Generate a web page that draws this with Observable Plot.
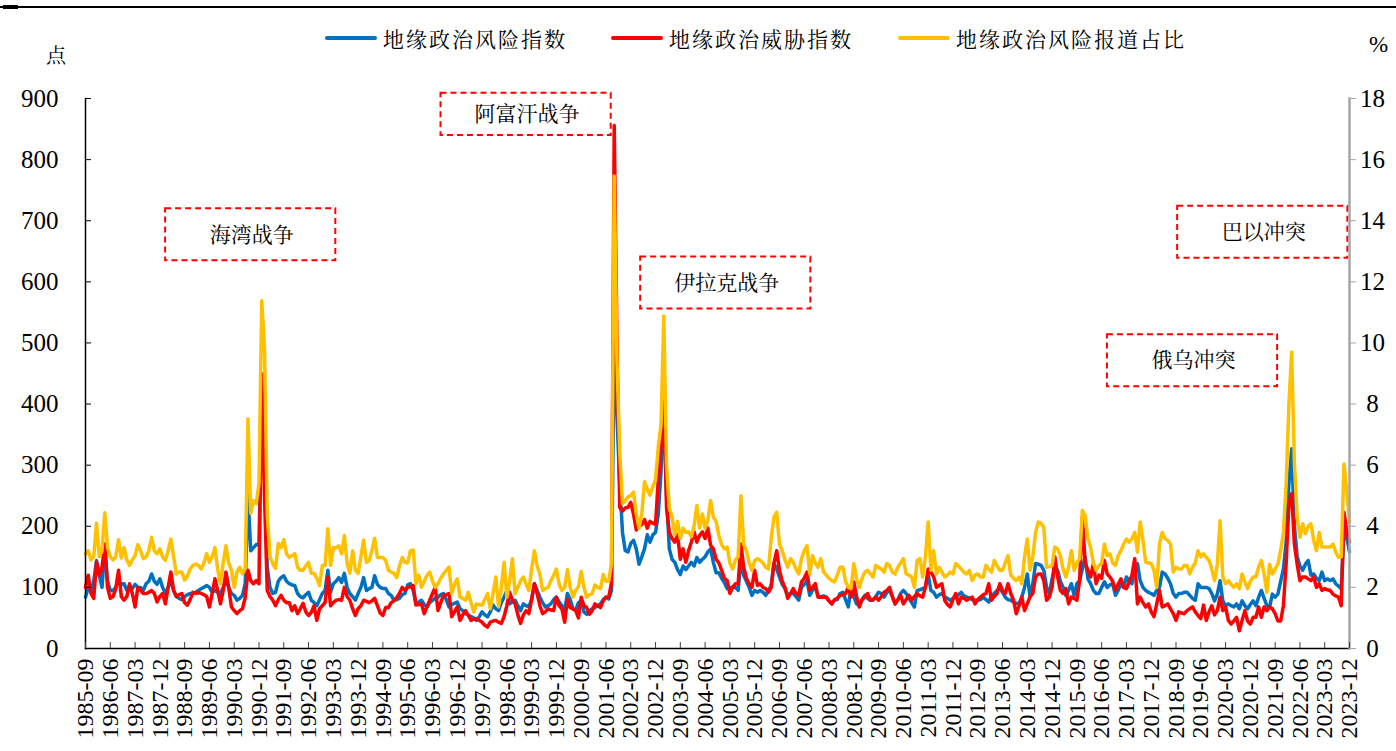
<!DOCTYPE html>
<html><head><meta charset="utf-8">
<script src="https://cdn.jsdelivr.net/npm/d3@7"></script>
<script src="https://cdn.jsdelivr.net/npm/@observablehq/plot@0.6"></script>
<style>
body{margin:0;background:#fff;}
#wrap{position:relative;width:1396px;height:751px;overflow:hidden;}
#wrap svg text{font-family:"Liberation Serif","Times New Roman","Noto Sans CJK SC",serif !important;}
#wrap svg g.ann text{font-family:"Noto Serif CJK SC","Noto Sans CJK SC",sans-serif !important;}
.cjk{font-family:"Noto Serif CJK SC","Noto Sans CJK SC",sans-serif;}
.leg{position:absolute;top:25px;height:26px;display:flex;align-items:center;font-size:21px;letter-spacing:2px;color:#000;white-space:nowrap;}
.leg i{display:inline-block;width:52px;height:4px;border-radius:2px;margin-right:6px;}
</style></head><body><div id="wrap"></div>
<script>
// ---- data ----
const startYear = 1985, startMonth = 9;
const seriesNames = ["地缘政治风险指数", "地缘政治威胁指数", "地缘政治风险报道占比"];
const seriesColors = ["#0070C0", "#FF0000", "#FFC000"];
// 地缘政治风险指数 (点)
const gprIndex = [
84,100,95,110,144,120,100,166,110,95,
95,100,110,105,106,95,100,98,105,100,
100,95,106,110,122,110,105,114,100,90,
100,111,95,85,82,80,85,88,90,90,
92,95,98,100,103,100,92,95,92,90,
100,111,100,90,87,79,82,87,106,253,
160,165,170,170,410,300,133,100,90,92,
110,116,119,110,106,104,103,90,85,83,
88,92,79,75,70,80,90,95,128,92,
106,110,116,108,123,100,90,85,79,90,
100,116,95,98,100,119,105,100,98,98,
90,87,79,80,82,88,90,104,106,95,
73,76,79,72,68,75,79,82,84,88,
90,80,68,72,74,76,65,62,57,55,
52,50,46,52,60,55,52,60,71,65,
62,75,84,95,73,76,79,70,62,73,
70,68,80,106,95,84,75,68,70,73,
80,84,76,70,62,90,80,65,62,75,
78,60,56,62,65,67,70,73,80,84,
81,95,515,380,270,190,160,158,172,177,
163,138,150,163,186,174,186,190,220,290,
400,250,163,146,141,129,121,135,129,135,
141,135,149,141,146,150,158,163,141,124,
124,115,108,98,100,100,100,95,144,120,
110,100,87,95,92,95,92,87,95,103,
139,130,117,105,98,87,90,90,85,79,
100,105,111,87,95,100,87,84,86,84,
78,73,79,80,90,92,80,68,100,85,
73,71,80,87,82,79,79,85,92,90,
84,92,95,85,73,80,90,95,90,82,
75,68,95,96,98,100,122,95,92,84,
88,90,84,82,79,82,84,88,92,86,
84,82,80,79,79,80,84,80,76,87,
90,95,98,92,84,80,79,76,74,73,
84,100,122,84,106,139,138,136,128,100,
90,114,133,128,110,100,87,95,106,87,
106,111,130,150,114,106,95,90,90,100,
109,100,104,106,87,95,106,100,117,110,
106,133,139,111,100,95,92,90,87,95,
100,125,122,115,106,90,84,90,90,92,
92,87,82,79,106,100,100,100,98,90,
78,89,111,78,70,73,70,68,73,65,
78,70,65,72,78,70,84,95,82,70,
68,89,84,89,110,130,175,270,327,200,
150,135,128,138,144,120,122,115,111,125,
111,114,111,114,106,102,98,193,182,158
];
// 地缘政治威胁指数 (点)
const gprThreat = [
100,120,90,82,141,120,133,171,100,82,
85,98,128,85,79,85,106,90,68,100,
95,90,90,92,95,90,76,85,90,73,
100,125,95,85,88,90,75,71,80,92,
90,92,90,88,85,68,90,114,95,73,
95,125,100,68,62,57,62,65,83,128,
111,106,111,106,450,250,95,85,79,70,
80,87,79,75,75,62,70,57,65,74,
60,54,59,70,46,65,70,75,116,70,
75,79,80,79,100,85,79,65,54,65,
70,79,77,75,78,82,70,58,54,67,
67,75,78,83,90,100,95,100,101,103,
71,72,73,57,68,79,90,100,62,75,
87,88,90,52,60,68,46,55,62,54,
46,48,49,46,43,38,35,43,45,46,
43,41,52,70,92,80,73,55,41,55,
62,57,80,106,90,70,57,60,65,63,
62,84,70,65,43,80,67,65,62,50,
84,70,67,56,62,73,70,67,78,84,
84,107,856,500,231,225,230,231,239,220,
194,200,203,211,197,208,205,203,276,330,
406,230,190,180,174,186,146,163,141,160,
174,191,174,185,191,180,197,169,163,146,
140,128,115,111,90,100,106,106,171,133,
115,106,100,128,103,106,100,98,92,100,
139,160,128,110,100,82,90,98,90,87,
109,115,125,95,100,106,84,84,84,84,
78,73,80,82,87,88,90,100,84,109,
85,68,80,84,90,79,80,84,79,85,
92,95,100,85,73,80,87,73,80,87,
79,85,90,86,84,100,130,125,117,100,
103,106,79,72,68,80,90,73,84,82,
79,82,84,73,80,84,88,90,106,79,
85,90,106,95,90,106,90,79,57,70,
84,62,73,85,90,117,122,122,111,79,
84,100,150,117,95,90,98,73,84,82,
79,111,215,140,128,117,139,106,120,115,
144,122,117,110,95,105,114,100,98,109,
120,147,73,84,75,68,73,60,52,73,
95,68,70,73,65,57,46,60,58,57,
62,65,68,60,54,49,71,46,60,70,
55,62,84,62,68,46,40,45,51,29,
46,62,45,40,51,51,68,51,68,62,
68,65,57,45,45,70,140,237,253,170,
138,111,117,117,114,111,117,100,106,95,
98,96,95,89,86,84,70,223,193,174
];
// 地缘政治风险报道占比 (%)
const gprShare = [
3.10,3.20,2.90,3.00,4.10,3.00,3.20,4.44,3.30,3.00,
2.90,3.00,3.56,2.96,3.30,2.90,2.72,2.90,3.04,3.40,
3.20,2.94,3.00,3.20,3.64,3.20,3.10,3.26,3.00,2.88,
3.20,3.58,3.00,2.44,2.50,2.50,2.24,2.36,2.60,2.72,
2.76,2.72,2.60,2.80,3.10,2.82,3.00,3.30,2.60,2.12,
2.80,3.36,2.80,2.56,2.00,2.50,2.66,2.44,2.62,7.52,
4.42,4.84,4.74,5.40,11.38,9.84,4.42,3.00,2.78,2.62,
3.44,3.30,3.56,3.10,2.98,3.04,3.10,2.66,2.56,2.56,
2.70,2.82,2.46,2.46,2.30,2.06,2.72,2.72,3.92,2.72,
3.30,3.30,3.36,3.10,3.70,2.78,2.46,3.20,2.56,2.46,
3.00,3.54,2.82,2.88,3.20,3.60,2.98,2.98,2.98,2.88,
2.56,2.50,2.46,2.32,2.70,2.98,2.82,2.80,3.20,3.22,
2.12,2.40,2.00,2.20,2.40,2.50,2.20,2.00,2.12,2.30,
2.44,2.56,2.66,1.80,2.10,2.28,1.68,1.64,1.58,1.84,
1.50,1.20,1.46,1.44,1.42,1.60,1.80,1.30,1.80,2.34,
1.36,2.00,2.82,1.68,2.20,2.94,1.80,2.00,2.22,2.34,
2.10,1.90,2.60,3.20,2.70,2.44,1.90,1.96,2.00,2.22,
2.40,2.60,2.10,1.90,2.00,2.58,2.00,1.68,1.90,2.02,
2.52,2.00,1.68,1.76,1.80,2.08,2.00,1.96,2.42,2.20,
2.20,2.80,15.46,9.40,6.40,4.74,4.84,4.96,5.00,5.12,
4.40,3.94,4.40,5.46,5.20,5.02,5.30,5.52,6.60,7.32,
10.88,6.00,4.60,4.30,3.72,4.16,3.60,3.94,3.80,3.82,
3.66,4.00,4.68,3.94,4.40,3.94,4.20,4.84,4.30,4.16,
3.70,3.40,3.26,3.32,2.80,2.60,2.90,3.00,5.00,3.42,
3.20,2.80,2.56,2.88,2.94,2.88,2.80,2.66,2.60,3.60,
4.30,4.46,3.42,3.20,2.90,2.66,2.94,2.82,2.60,2.44,
2.94,3.20,3.36,2.44,3.04,2.80,2.66,2.94,2.50,2.40,
2.30,2.22,2.18,2.40,2.66,2.66,2.20,2.00,1.96,2.78,
2.28,2.00,2.30,2.50,2.56,2.44,2.34,2.72,2.66,2.60,
2.50,2.78,2.72,2.50,2.44,2.66,2.80,2.94,2.44,2.40,
2.34,2.00,2.88,2.94,2.34,3.00,4.14,2.56,3.20,2.44,
2.66,2.50,2.34,2.40,2.50,2.44,2.78,2.70,2.60,2.50,
2.44,2.56,2.22,2.40,2.44,2.34,2.34,2.72,2.60,2.50,
2.88,2.70,2.56,2.56,2.80,3.04,2.40,2.30,2.22,2.34,
2.12,3.00,3.58,2.56,3.00,3.80,4.14,4.10,3.96,2.66,
2.68,2.72,3.32,3.26,3.04,2.60,2.34,2.66,3.20,2.56,
2.80,2.94,4.52,4.36,3.60,3.30,2.80,2.56,2.72,2.78,
3.42,3.04,3.10,2.80,2.72,3.04,3.20,3.42,3.58,3.48,
3.60,3.80,3.16,4.14,3.54,2.82,2.80,2.78,2.56,2.00,
3.42,3.80,3.60,3.54,3.42,2.50,2.66,2.60,2.60,2.72,
2.72,2.44,2.66,2.80,3.20,3.00,3.10,2.98,2.88,2.60,
2.22,2.76,4.18,2.34,2.12,2.22,2.10,2.00,2.12,1.96,
2.44,2.18,1.96,2.20,2.34,2.34,2.66,2.88,2.44,1.84,
2.76,2.44,2.60,2.76,3.20,3.80,5.40,8.00,9.70,6.04,
4.30,3.64,4.08,3.76,4.00,4.08,3.54,3.20,3.80,3.32,
3.32,3.32,3.32,3.42,3.16,2.98,3.00,6.04,5.16,4.14
];
const leftTicks = [0,100,200,300,400,500,600,700,800,900];
const rightTicks = [0,2,4,6,8,10,12,14,16,18];
const tickEvery = 9;
// annotations: event label, centre month, centre value (点)
const eventLabels = ["海湾战争", "阿富汗战争", "伊拉克战争", "俄乌冲突", "巴以冲突"];
const eventMonths = ["1990-09", "1999-01", "2005-01", "2019-03", "2021-04"];
const eventValues = [677, 874, 598, 471, 681];

// ---- build ----
const N = gprIndex.length;
const months = d3.range(N).map(i => {
  const m = startMonth - 1 + i;
  return `${startYear + Math.floor(m / 12)}-${String(m % 12 + 1).padStart(2, "0")}`;
});
const ratio = 900 / 18; // left/right axis ratio
const rows = (arr, k) => arr.map((v, i) => ({i, v: v * k}));
const xTicks = d3.range(0, N, tickEvery);
const halfW = 30.9, halfH = 42.5;
const events = eventLabels.map((label, k) => ({
  label, x: months.indexOf(eventMonths[k]) + (k === 2 ? 0.5 : k === 4 ? 0.5 : 0),
  y: eventValues[k], h: k === 1 ? 34.4 : halfH
}));
const serif = "Liberation Serif, Times New Roman, serif";
const cjk = "Noto Serif CJK SC, Noto Sans CJK SC, sans-serif";

const chart = Plot.plot({
  width: 1396, height: 751,
  marginLeft: 85, marginRight: 47, marginTop: 98, marginBottom: 103,
  x: {type: "linear", domain: [0, N - 1], label: null},
  y: {domain: [0, 900], label: null},
  style: {fontFamily: serif, background: "transparent", overflow: "visible", color: "#000"},
  marks: [
    Plot.rect(events, {x1: d => d.x - halfW, x2: d => d.x + halfW, y1: d => d.y - d.h, y2: d => d.y + d.h,
      fill: "white", stroke: "#FF0000", strokeWidth: 2, strokeDasharray: "6,4"}),
    Plot.text(events, {x: d => d.x, y: d => d.y, text: "label", fontSize: 21, fontFamily: cjk,
      fill: "#000", dx: 1, className: "ann", style: "letter-spacing:2px"}),
    Plot.line(rows(gprIndex, 1), {x: "i", y: "v", stroke: seriesColors[0], strokeWidth: 3.5, strokeLinejoin: "round"}),
    Plot.line(rows(gprThreat, 1), {x: "i", y: "v", stroke: seriesColors[1], strokeWidth: 3.5, strokeLinejoin: "round"}),
    Plot.line(rows(gprShare, ratio), {x: "i", y: "v", stroke: seriesColors[2], strokeWidth: 3.5, strokeLinejoin: "round"}),
    Plot.frame({anchor: "left", stroke: "#000", strokeWidth: 1.5}),
    Plot.frame({anchor: "bottom", stroke: "#000", strokeWidth: 1.5}),
    Plot.frame({anchor: "right", stroke: "#A6A6A6", strokeWidth: 2.5}),
    Plot.axisY({anchor: "left", ticks: leftTicks, tickSize: 0, tickPadding: 27, fontSize: 25,
      fontFamily: serif, tickFormat: d => d, label: null}),
    Plot.axisY({anchor: "left", ticks: leftTicks, tickSize: -6, tickFormat: () => "", stroke: "#000", label: null}),
    Plot.axisY({anchor: "right", ticks: rightTicks.map(d => d * ratio), tickSize: 6, tickPadding: 17, fontSize: 25,
      fontFamily: serif, textAnchor: "middle", stroke: "#A6A6A6", tickFormat: d => d / ratio, label: null}),
    Plot.axisX({ticks: xTicks, tickSize: -6, tickFormat: () => "", stroke: "#404040", label: null}),
    Plot.axisX({ticks: xTicks, tickSize: 0, tickPadding: 10, tickRotate: -90, fontSize: 24,
      fontFamily: serif, style: "letter-spacing:1.2px", tickFormat: i => months[i], label: null})
  ]
});
const wrap = document.getElementById("wrap");
wrap.appendChild(chart);

// header: top rule, unit labels and legend
const add = (html) => wrap.insertAdjacentHTML("beforeend", html);
add(`<div style="position:absolute;left:0;top:6px;width:1396px;height:2px;background:#000"></div>`);
add(`<div style="position:absolute;left:3px;top:5px;width:15px;height:4px;background:#000"></div>`);
add(`<div class="cjk" style="position:absolute;left:46px;top:40px;font-size:20px;">点</div>`);
add(`<div style="position:absolute;left:1369px;top:32px;font-size:23px;font-family:'Liberation Serif',serif">%</div>`);
const legendX = [325, 611, 898];
seriesNames.forEach((name, k) => {
  add(`<div class="leg cjk" style="left:${legendX[k]}px"><i style="background:${seriesColors[k]}"></i>${name}</div>`);
});
if (gprThreat.length !== N || gprShare.length !== N) add(`<div style="position:absolute;left:400px;top:300px;color:red;font-size:30px">length mismatch ${N} ${gprThreat.length} ${gprShare.length}</div>`);
</script></body></html>
